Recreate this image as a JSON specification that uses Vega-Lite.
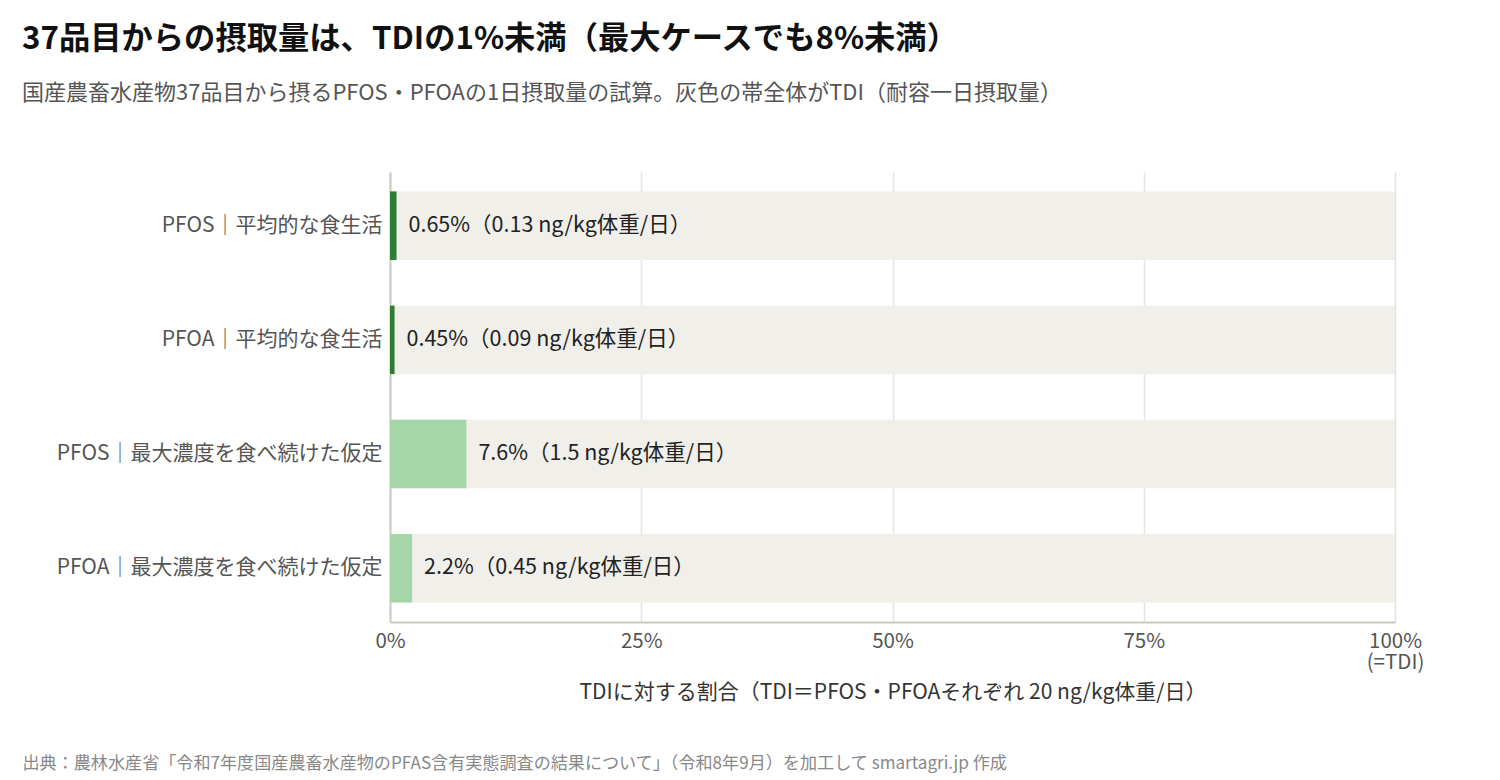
{
  "$schema": "https://vega.github.io/schema/vega-lite/v6.json",
  "width": 1005,
  "height": 450,
  "autosize": {"type": "none"},
  "padding": {"left": 390, "top": 172, "right": 105, "bottom": 158},
  "background": "#ffffff",
  "config": {
    "font": "Noto Sans CJK JP",
    "view": {"stroke": null}
  },
  "title": {
    "text": "37品目からの摂取量は、TDIの1%未満（最大ケースでも8%未満）",
    "subtitle": "国産農畜水産物37品目から摂るPFOS・PFOAの1日摂取量の試算。灰色の帯全体がTDI（耐容一日摂取量）",
    "anchor": "start",
    "frame": "group",
    "dx": -368,
    "offset": 68,
    "fontSize": 31.3,
    "fontWeight": "bold",
    "color": "#111111",
    "subtitleFontSize": 22,
    "subtitleColor": "#555555",
    "subtitlePadding": 28,
    "font": "Noto Sans CJK JP",
    "subtitleFont": "Noto Sans CJK JP"
  },
  "data": {
    "values": [
      {"item": "PFOS｜平均的な食生活", "pct": 0.65, "tdi": 100, "kind": "平均", "label": "0.65%（0.13 ng/kg体重/日）"},
      {"item": "PFOA｜平均的な食生活", "pct": 0.45, "tdi": 100, "kind": "平均", "label": "0.45%（0.09 ng/kg体重/日）"},
      {"item": "PFOS｜最大濃度を食べ続けた仮定", "pct": 7.6, "tdi": 100, "kind": "最大", "label": "7.6%（1.5 ng/kg体重/日）"},
      {"item": "PFOA｜最大濃度を食べ続けた仮定", "pct": 2.2, "tdi": 100, "kind": "最大", "label": "2.2%（0.45 ng/kg体重/日）"}
    ]
  },
  "encoding": {
    "y": {
      "field": "item",
      "type": "nominal",
      "sort": null,
      "scale": {"paddingInner": 0.4, "paddingOuter": 0.17},
      "axis": {
        "title": "出典：農林水産省「令和7年度国産農畜水産物のPFAS含有実態調査の結果について」（令和8年9月）を加工して smartagri.jp 作成",
        "titleAngle": 0,
        "titleX": -368,
        "titleY": 591,
        "titleAlign": "left",
        "titleBaseline": "middle",
        "titleFontSize": 17.1,
        "titleFontWeight": "normal",
        "titleColor": "#888888",
        "labelFontSize": 21,
        "labelColor": "#555555",
        "labelPadding": 8,
        "labelLimit": 400,
        "ticks": false,
        "domain": true,
        "domainColor": "#cbc9bf",
        "domainWidth": 2,
        "grid": false
      }
    }
  },
  "layer": [
    {
      "mark": {"type": "bar", "color": "#f0efea"},
      "encoding": {
        "x": {
          "field": "tdi",
          "type": "quantitative",
          "scale": {"domain": [0, 100], "nice": false},
          "axis": {
            "values": [0, 25, 50, 75, 100],
            "labelExpr": "datum.value == 100 ? ['100%', '(=TDI)'] : datum.value + '%'",
            "labelFontSize": 20.5,
            "labelColor": "#555555",
            "labelPadding": 9,
            "labelLineHeight": 21,
            "labelFlush": false,
            "labelOverlap": false,
            "ticks": false,
            "grid": true,
            "gridColor": "#e6e4dd",
            "gridWidth": 1.5,
            "domain": true,
            "domainColor": "#cbc9bf",
            "domainWidth": 2,
            "title": "TDIに対する割合（TDI＝PFOS・PFOAそれぞれ 20 ng/kg体重/日）",
            "titleFontSize": 21,
            "titleFontWeight": "normal",
            "titleColor": "#333333",
            "titlePadding": 9
          }
        }
      }
    },
    {
      "mark": {"type": "bar"},
      "encoding": {
        "x": {"field": "pct", "type": "quantitative"},
        "color": {
          "field": "kind",
          "type": "nominal",
          "scale": {"domain": ["平均", "最大"], "range": ["#2e7d32", "#a5d6a7"]},
          "legend": null
        }
      }
    },
    {
      "mark": {"type": "text", "align": "left", "baseline": "middle", "dx": 12, "fontSize": 21.5, "color": "#222222"},
      "encoding": {
        "x": {"field": "pct", "type": "quantitative"},
        "text": {"field": "label"}
      }
    }
  ]
}
